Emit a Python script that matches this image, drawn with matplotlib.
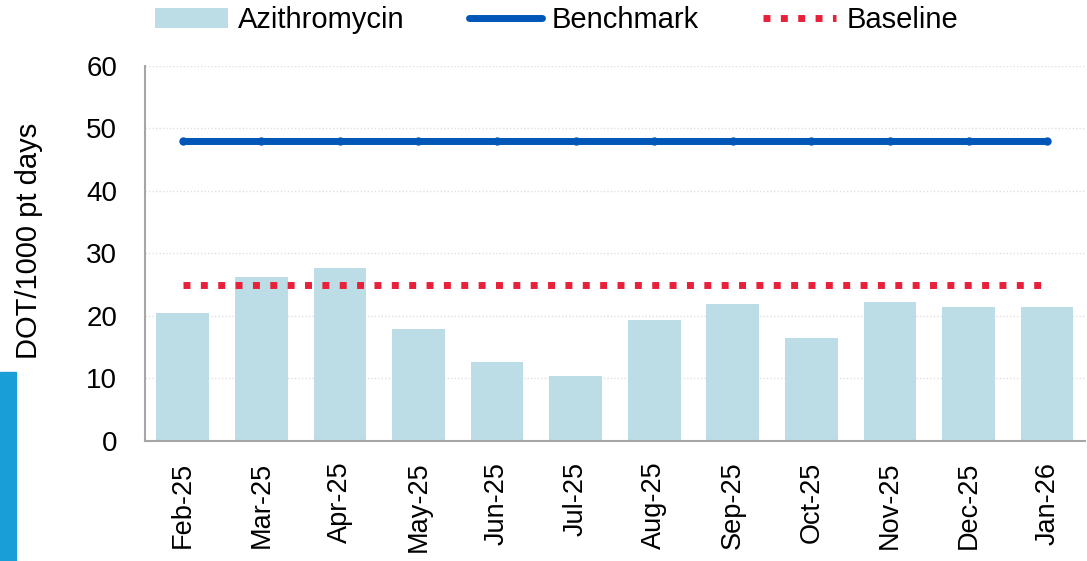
import numpy as np
import matplotlib.pyplot as plt
from matplotlib.patches import Rectangle

plt.rcParams['font.family'] = ['Liberation Sans', 'DejaVu Sans']

months = ['Feb-25', 'Mar-25', 'Apr-25', 'May-25', 'Jun-25', 'Jul-25',
          'Aug-25', 'Sep-25', 'Oct-25', 'Nov-25', 'Dec-25', 'Jan-26']
azithromycin = [20.5, 26.2, 27.7, 17.9, 12.6, 10.4, 19.4, 21.9, 16.5, 22.2, 21.4, 21.4]
benchmark = [48] * 12
baseline = [25] * 12

x = np.arange(len(months))

fig = plt.figure(figsize=(10.87, 5.61), dpi=100)
ax = fig.add_axes([0.1334, 0.2139, 0.8646, 0.6685])

bars = ax.bar(x, azithromycin, width=0.67, color='#bcdde5', label='Azithromycin', zorder=2)
bench, = ax.plot(x, benchmark, color='#0057b8', lw=5, marker='o', ms=5,
                 solid_capstyle='round', label='Benchmark', zorder=3)
base, = ax.plot(x, baseline, color='#e8203a', lw=5, linestyle=(0, (1, 1.5)),
                dash_capstyle='butt', label='Baseline', zorder=3)

ax.set_xlim(-0.48, 11.48)
ax.set_ylim(0, 60)
ax.set_yticks(range(0, 61, 10))
ax.set_xticks(x)
ax.set_xticklabels(months, rotation=90, fontsize=19.5)
ax.tick_params(axis='y', labelsize=20, length=0, pad=20)
ax.tick_params(axis='x', length=0, pad=15)
ax.yaxis.grid(True, linestyle=(0, (1, 1.5)), color='#e0e0e0', lw=1, zorder=0)
ax.set_axisbelow(True)

for s in ['top', 'right']:
    ax.spines[s].set_visible(False)
for s in ['left', 'bottom']:
    ax.spines[s].set_color('#a6a6a6')
    ax.spines[s].set_linewidth(1.5)

ax.set_ylabel('DOT/1000 pt days', fontsize=21)
ax.yaxis.set_label_coords(-0.109, 0.533)

leg_bench = plt.Line2D([], [], color='#0057b8', lw=5, solid_capstyle='round')
fig.legend([bars, leg_bench, base], ['Azithromycin', 'Benchmark', 'Baseline'],
           loc='center', bbox_to_anchor=(0.512, 0.964), ncol=3, frameon=False,
           fontsize=21, handlelength=2.5, handletextpad=0.35, columnspacing=2.2)

fig.patches.append(Rectangle((0, 0), 16 / 1087, 189 / 561, transform=fig.transFigure,
                             color='#1a9ed8', zorder=0))

fig.savefig('out.png', dpi=100)
